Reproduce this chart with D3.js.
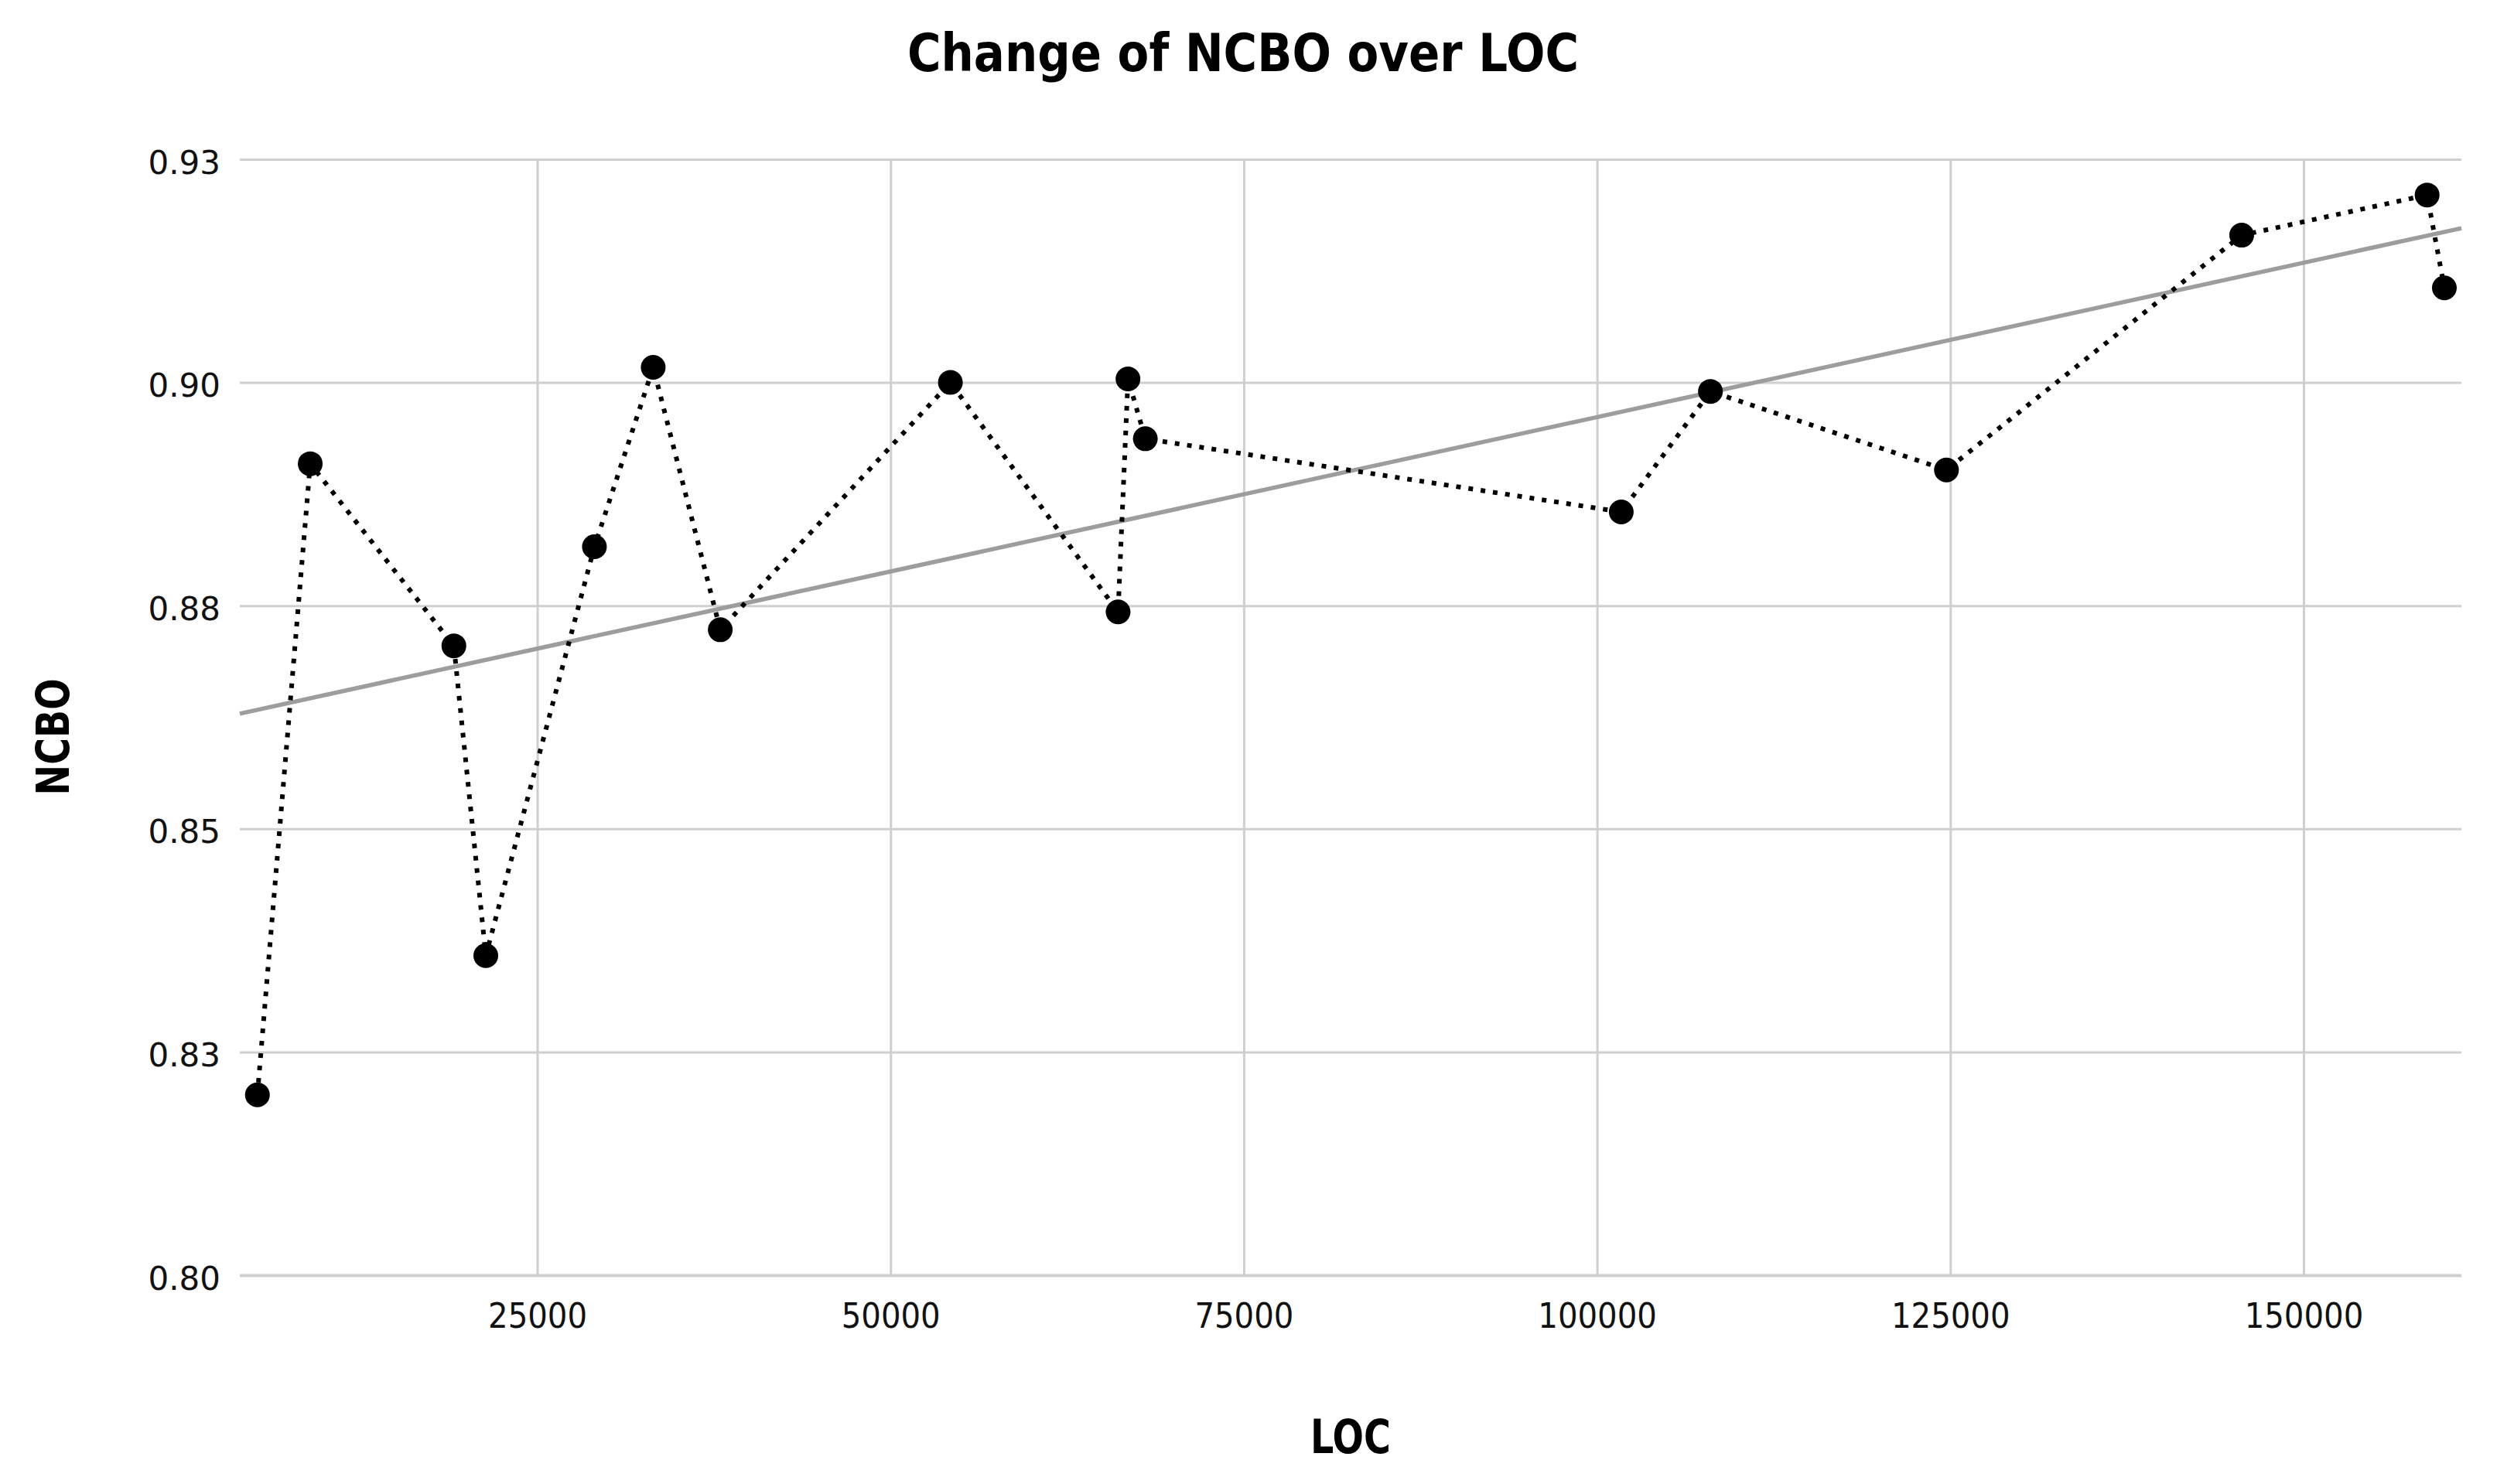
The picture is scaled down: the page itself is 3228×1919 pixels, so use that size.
<!DOCTYPE html>
<html>
<head>
<meta charset="utf-8">
<script src="https://cdn.jsdelivr.net/npm/d3@7"></script>
<style>
  body { margin: 0; background: #fff; }
  text { font-family: "DejaVu Sans", Verdana, sans-serif; fill: #000; }
</style>
</head>
<body>
<script>

var width = 3228
var height = 1919
var margin = {top: 206, right: 46, bottom: 270, left: 310};
var plotW = width - margin.left - margin.right;
var plotH = height - margin.top - margin.bottom;

// LOC / NCBO pairs
var loc  = [5195, 8934, 19099, 21360, 29045, 33206, 37952, 54237, 66105, 66805, 68032, 101714, 108025, 124727, 145621, 158742, 159963];
var ncbo = [0.8202, 0.8909, 0.8705, 0.8358, 0.8816, 0.9017, 0.8723, 0.9000, 0.8743, 0.9004, 0.8937, 0.8855, 0.8990, 0.8902, 0.9165, 0.9210, 0.9106];

var xTicks = [25000, 50000, 75000, 100000, 125000, 150000];
var yTicks = [0.800, 0.825, 0.850, 0.875, 0.900, 0.925];
var yTickLabels = ["0.80", "0.83", "0.85", "0.88", "0.90", "0.93"];
var xDomain = [3950, 161170];
var yDomain = [0.800, 0.925];

var data = loc.map((d, i) => { return {loc: d, ncbo: ncbo[i]}; });

var svg = d3.select("body")
	.append("svg")
		.attr("width", width)
		.attr("height", height);

var g = svg.append("g")
		.attr("transform", "translate(" + margin.left + ", " + margin.top + ")");

var x = d3.scaleLinear()
	.domain(xDomain)
	.range([0, plotW]);

var y = d3.scaleLinear()
	.domain(yDomain)
	.range([plotH, 0]);

// horizontal grid + y labels
var leftAxis = d3.axisLeft(y)
	.tickValues(yTicks)
	.tickFormat((d, i) => { return yTickLabels[i]; })
	.tickSize(-plotW)
	.tickPadding(25);

var gy = g.append("g")
	.attr("class", "y axis")
	.call(leftAxis);
gy.select(".domain").remove();
gy.selectAll("line")
	.attr("stroke", "#cfcfcf")
	.attr("stroke-width", (d) => { return d == 0.8 ? 4 : 3; });
gy.selectAll("text")
	.attr("font-size", "42px")
	.attr("dy", "0.43em")
	.style("fill", "#111")
	.style("font-family", "DejaVu Sans, Verdana, sans-serif");

// vertical grid + x labels
var bottomAxis = d3.axisBottom(x)
	.tickValues(xTicks)
	.tickFormat(d3.format("d"))
	.tickSize(-plotH)
	.tickPadding(36);

var gx = g.append("g")
	.attr("class", "x axis")
	.attr("transform", "translate(0, " + plotH + ")")
	.call(bottomAxis);
gx.select(".domain").remove();
gx.selectAll("line")
	.attr("stroke", "#cfcfcf")
	.attr("stroke-width", 3);
gx.selectAll("text")
	.attr("font-size", "45px")
	.attr("textLength", (d) => { return String(d).length * 25.6; })
	.attr("lengthAdjust", "spacingAndGlyphs")
	.style("fill", "#111")
	.style("font-family", "DejaVu Sans, Verdana, sans-serif");

// linear fit over all points
var mx = d3.mean(data, (d) => d.loc);
var my = d3.mean(data, (d) => d.ncbo);
var sxy = d3.sum(data, (d) => (d.loc - mx) * (d.ncbo - my));
var sxx = d3.sum(data, (d) => (d.loc - mx) * (d.loc - mx));
var slope = sxy / sxx;
var icpt = my - slope * mx;

g.append("line")
	.attr("x1", x(xDomain[0]))
	.attr("y1", y(icpt + slope * xDomain[0]))
	.attr("x2", x(xDomain[1]))
	.attr("y2", y(icpt + slope * xDomain[1]))
	.attr("stroke", "#9d9d9d")
	.attr("stroke-width", 5.5);

// dotted connection
var line = d3.line()
	.x((d) => { return x(d.loc); })
	.y((d) => { return y(d.ncbo); });

g.append("path")
	.datum(data)
	.attr("d", line)
	.attr("fill", "none")
	.attr("stroke", "#000")
	.attr("stroke-width", 6)
	.attr("stroke-dasharray", "6,10");

g.selectAll("circle").data(data)
	.enter()
	.append("circle")
	.attr("cx", (d) => { return x(d.loc); })
	.attr("cy", (d) => { return y(d.ncbo); })
	.attr("r", 16)
	.attr("fill", "#000");

// titles
svg.append("text")
	.attr("x", 1607)
	.attr("y", 92)
	.attr("text-anchor", "middle")
	.attr("font-size", "68px")
	.attr("font-weight", "bold")
	.attr("textLength", 868)
	.attr("lengthAdjust", "spacingAndGlyphs")
	.text("Change of NCBO over LOC");

svg.append("text")
	.attr("x", margin.left + plotW / 2)
	.attr("y", 1879)
	.attr("text-anchor", "middle")
	.attr("font-size", "60px")
	.attr("font-weight", "bold")
	.attr("textLength", 104)
	.attr("lengthAdjust", "spacingAndGlyphs")
	.text("LOC");

svg.append("text")
	.attr("transform", "translate(89, 953) rotate(-90)")
	.attr("text-anchor", "middle")
	.attr("font-size", "58px")
	.attr("font-weight", "bold")
	.attr("textLength", 151)
	.attr("lengthAdjust", "spacingAndGlyphs")
	.text("NCBO");

</script>
</body>
</html>
